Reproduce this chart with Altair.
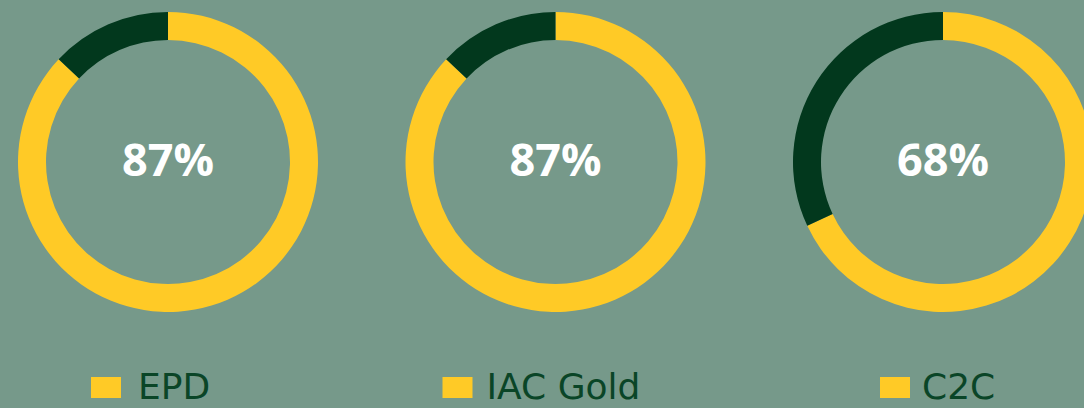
import altair as alt
import pandas as pd

categories = ["EPD", "IAC Gold", "C2C"]
values = [87, 87, 68]

BG = "#76998A"
YELLOW = "#FFCA26"
DARK = "#02381D"
LABEL = "#0A4527"

rows = []
for c, v in zip(categories, values):
    rows.append({"category": c, "segment": "share", "start": 0, "end": v, "value": v})
    rows.append({"category": c, "segment": "rest", "start": v, "end": 100, "value": v})
df = pd.DataFrame(rows)
lab = pd.DataFrame({"category": categories, "value": values})

xscale = alt.Scale(type="point", domain=categories, range=[168, 943], padding=0)
X = alt.X("category:N", scale=xscale, axis=None)

arcs = alt.Chart(df).transform_calculate(
    t0="datum.start / 100 * 2 * PI", t1="datum.end / 100 * 2 * PI"
).mark_arc(innerRadius=122, outerRadius=150).encode(
    x=X,
    y=alt.value(162),
    theta=alt.Theta("t0:Q", scale=None),
    theta2="t1:Q",
    color=alt.Color("segment:N", scale=alt.Scale(domain=["share", "rest"], range=[YELLOW, DARK]), legend=None),
)

pct = alt.Chart(lab).transform_calculate(txt="datum.value + '%'").mark_text(
    font="Open Sans", fontWeight="bold", fontSize=45, color="white", baseline="middle", align="center"
).encode(x=X, y=alt.value(162), text="txt:N")

sq_off = {"EPD": -62, "IAC Gold": -98, "C2C": -48}
tx_off = {"EPD": -30, "IAC Gold": -69, "C2C": -21}

layers = [arcs, pct]
for c in categories:
    base = alt.Chart(lab).transform_filter(alt.datum.category == c)
    layers.append(base.mark_rect(width=30, height=21, color=YELLOW, xOffset=sq_off[c]).encode(x=X, y=alt.value(387.5)))
    layers.append(base.mark_text(font="DejaVu Sans", fontSize=36, color=LABEL, align="left", baseline="alphabetic", dx=tx_off[c]).encode(
        x=X, y=alt.value(399), text="category:N"))

chart = alt.layer(*layers).properties(
    width=1084, height=408, background=BG, padding=0, autosize=alt.AutoSizeParams(type="none")
).configure_view(stroke=None)

chart.save("out.html", embed_options={"renderer": "svg", "actions": False})
